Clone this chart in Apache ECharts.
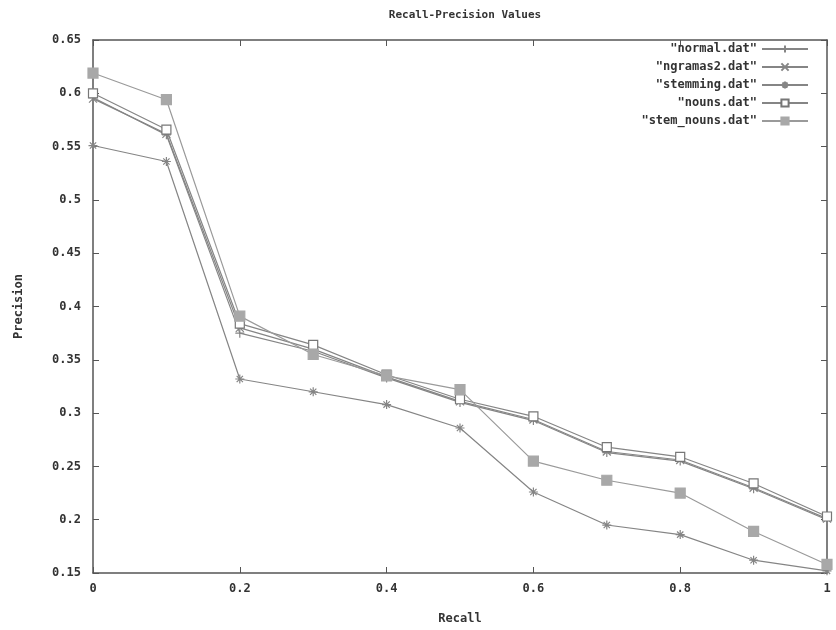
<!DOCTYPE html>
<html>
<head>
<meta charset="utf-8">
<script src="https://cdn.jsdelivr.net/npm/echarts@6/dist/echarts.min.js"></script>
<style>html,body{margin:0;padding:0;background:#fff}#c{width:836px;height:630px}</style>
</head>
<body>
<div id="c"></div>
<script>
const recall = [0, 0.1, 0.2, 0.3, 0.4, 0.5, 0.6, 0.7, 0.8, 0.9, 1.0];
const normal = [0.596, 0.561, 0.375, 0.358, 0.333, 0.310, 0.293, 0.263, 0.255, 0.229, 0.200];
const ngramas2 = [0.595, 0.562, 0.380, 0.360, 0.334, 0.311, 0.294, 0.264, 0.256, 0.230, 0.201];
const stemming = [0.551, 0.536, 0.332, 0.320, 0.308, 0.286, 0.226, 0.195, 0.186, 0.162, 0.152];
const nouns = [0.600, 0.566, 0.384, 0.364, 0.336, 0.313, 0.297, 0.268, 0.259, 0.234, 0.203];
const stemNouns = [0.619, 0.594, 0.391, 0.355, 0.335, 0.322, 0.255, 0.237, 0.225, 0.189, 0.158];
const seriesNames = ['"normal.dat"', '"ngramas2.dat"', '"stemming.dat"', '"nouns.dat"', '"stem_nouns.dat"'];
const xTicks = [0, 0.2, 0.4, 0.6, 0.8, 1];
const yTicks = [0.15, 0.2, 0.25, 0.3, 0.35, 0.4, 0.45, 0.5, 0.55, 0.6, 0.65];

const FONT = '"DejaVu Sans Mono", "Liberation Mono", monospace';
const AX = '#555';
const LC = '#858585';
const pair = arr => recall.map((r, i) => [r, arr[i]]);

const PLUS = 'path://M0,5L10,5M5,0L5,10';
const CROSS = 'path://M0,0L10,10M10,0L0,10';
const STAR = 'path://M0,5L10,5M5,0L5,10M1.5,1.5L8.5,8.5M8.5,1.5L1.5,8.5';

function mk(name, data, symbol, size, fill, border, lineColor) {
  return {
    name, type: 'line', data: pair(data), symbol, symbolSize: size,
    showSymbol: true,
    lineStyle: { color: lineColor, width: 1.2 },
    itemStyle: { color: fill, borderColor: border, borderWidth: 1.2 },
    emphasis: { disabled: true },
    animation: false,
    xAxisIndex: 0, yAxisIndex: 0
  };
}

const chart = echarts.init(document.getElementById('c'), null, { renderer: 'canvas' });
const tickFmt = v => String(Math.round(v * 100) / 100);
chart.setOption({
  backgroundColor: '#fff',
  animation: false,
  title: {
    text: 'Recall-Precision Values', left: 460, top: 5, textAlign: 'center',
    textStyle: { fontFamily: FONT, fontSize: 11, fontWeight: 'bold', color: '#333' }
  },
  legend: {
    orient: 'vertical', right: 22, top: 38, align: 'right',
    itemWidth: 46, itemHeight: 9, itemGap: 6,
    textStyle: { fontFamily: FONT, fontSize: 12, fontWeight: 'bold', color: '#333' },
    data: seriesNames
  },
  grid: { left: 93, right: 9, top: 40, bottom: 53 },
  xAxis: [{
    type: 'value', min: 0, max: 1, interval: 0.2,
    name: 'Recall', nameLocation: 'middle', nameGap: 40,
    nameTextStyle: { fontFamily: FONT, fontSize: 12, fontWeight: 'bold', color: '#333' },
    axisLine: { show: true, onZero: false, lineStyle: { color: AX, width: 1.5 } },
    axisTick: { show: true, inside: true, length: 6, lineStyle: { color: AX } },
    axisLabel: { fontFamily: FONT, fontSize: 12, fontWeight: 'bold', color: '#333', margin: 10, formatter: tickFmt },
    splitLine: { show: false }
  }, {
    type: 'value', position: 'top', min: 0, max: 1, interval: 0.2,
    axisLine: { show: true, onZero: false, lineStyle: { color: AX, width: 1.5 } },
    axisTick: { show: true, inside: true, length: 6, lineStyle: { color: AX } },
    axisLabel: { show: false }, splitLine: { show: false }
  }],
  yAxis: [{
    type: 'value', min: 0.15, max: 0.65, interval: 0.05,
    name: 'Precision', nameLocation: 'middle', nameGap: 68, nameRotate: 90,
    nameTextStyle: { fontFamily: FONT, fontSize: 12, fontWeight: 'bold', color: '#333' },
    axisLine: { show: true, onZero: false, lineStyle: { color: AX, width: 1.5 } },
    axisTick: { show: true, inside: true, length: 6, lineStyle: { color: AX } },
    axisLabel: { fontFamily: FONT, fontSize: 12, fontWeight: 'bold', color: '#333', margin: 12, formatter: tickFmt },
    splitLine: { show: false }
  }, {
    type: 'value', position: 'right', min: 0.15, max: 0.65, interval: 0.05,
    axisLine: { show: true, onZero: false, lineStyle: { color: AX, width: 1.5 } },
    axisTick: { show: true, inside: true, length: 6, lineStyle: { color: AX } },
    axisLabel: { show: false }, splitLine: { show: false }
  }],
  series: [
    mk(seriesNames[0], normal, PLUS, 9, LC, LC, LC),
    mk(seriesNames[1], ngramas2, CROSS, 8, LC, LC, LC),
    mk(seriesNames[2], stemming, STAR, 9, LC, LC, LC),
    mk(seriesNames[3], nouns, 'rect', 9, '#fff', '#777', LC),
    mk(seriesNames[4], stemNouns, 'rect', 10, '#a8a8a8', '#a8a8a8', '#9a9a9a')
  ]
});
</script>
</body>
</html>
